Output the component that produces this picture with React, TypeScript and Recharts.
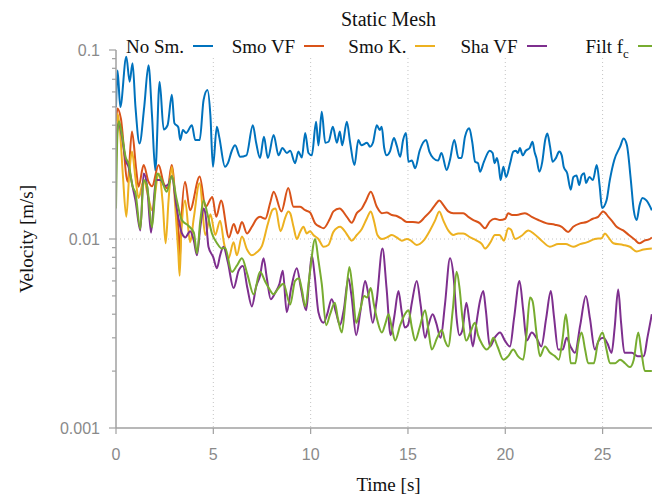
import { CartesianGrid, Line, LineChart, XAxis, YAxis } from "recharts";

type Pt = [number, number];

// time [s], velocity [m/s]
const noSmoothing: Pt[] = [
  [0, 0.05], [0.08, 0.078], [0.22, 0.05], [0.53, 0.092], [0.7, 0.068], [0.85, 0.085],
  [1.0, 0.05], [1.21, 0.032], [1.45, 0.05], [1.67, 0.083], [1.85, 0.045], [2.02, 0.023],
  [2.24, 0.068], [2.45, 0.038], [2.65, 0.04], [2.87, 0.058], [3.0, 0.041], [3.2, 0.039],
  [3.3, 0.0334], [3.44, 0.0377], [3.6, 0.0364], [3.9, 0.04], [4.07, 0.0334], [4.3, 0.0334],
  [4.5, 0.0544], [4.7, 0.0614], [4.85, 0.045], [4.98, 0.0241], [5.18, 0.0392], [5.3, 0.0348],
  [5.6, 0.0241], [5.75, 0.0252], [5.95, 0.0293], [6.12, 0.0313], [6.38, 0.0272], [6.7, 0.0277],
  [7.03, 0.04], [7.2, 0.0323], [7.4, 0.0268], [7.6, 0.0348], [7.8, 0.0268], [8.1, 0.0355],
  [8.35, 0.0277], [8.55, 0.0303], [8.78, 0.0285], [8.95, 0.0293], [9.2, 0.0252], [9.37, 0.029],
  [9.55, 0.027], [9.72, 0.0364], [9.89, 0.0285], [10.06, 0.0277], [10.28, 0.0417], [10.4, 0.0313],
  [10.57, 0.0471], [10.75, 0.0323], [10.92, 0.0327], [11.14, 0.0392], [11.35, 0.0323], [11.5, 0.037],
  [11.62, 0.0313], [11.86, 0.0417], [12.03, 0.0323], [12.25, 0.0246], [12.45, 0.0334], [12.6, 0.0313],
  [12.9, 0.0323], [13.05, 0.0308], [13.2, 0.0323], [13.4, 0.04], [13.55, 0.0377], [13.65, 0.0392],
  [13.78, 0.0303], [13.9, 0.0277], [14.07, 0.029], [14.28, 0.0342], [14.42, 0.0313], [14.6, 0.0272],
  [14.75, 0.0334], [14.9, 0.0364], [15.02, 0.0256], [15.2, 0.026], [15.37, 0.0237], [15.6, 0.0293],
  [15.93, 0.0334], [16.1, 0.029], [16.3, 0.0268], [16.55, 0.026], [16.72, 0.0285], [16.99, 0.0232],
  [17.15, 0.026], [17.38, 0.0334], [17.6, 0.0268], [17.75, 0.0268], [17.93, 0.0348], [18.15, 0.0385],
  [18.3, 0.0327], [18.45, 0.0256], [18.6, 0.0252], [18.7, 0.0227], [18.9, 0.0256], [19.2, 0.0293],
  [19.35, 0.0285], [19.45, 0.0252], [19.57, 0.0268], [19.67, 0.0241], [19.76, 0.0205], [19.9, 0.0241],
  [20.04, 0.0213], [20.25, 0.0252], [20.41, 0.029], [20.55, 0.0293], [20.65, 0.0285], [20.75, 0.0303],
  [20.9, 0.0277], [21.05, 0.0293], [21.25, 0.0303], [21.4, 0.0327], [21.5, 0.029], [21.6, 0.0268],
  [21.75, 0.0227], [21.9, 0.0256], [22.05, 0.0334], [22.16, 0.0362], [22.3, 0.0308], [22.43, 0.0256],
  [22.6, 0.0268], [22.77, 0.029], [22.9, 0.0277], [23.0, 0.0241], [23.18, 0.0223], [23.36, 0.0182],
  [23.5, 0.0213], [23.66, 0.0217], [23.8, 0.0193], [23.92, 0.0217], [24.05, 0.0223], [24.15, 0.0198],
  [24.32, 0.0213], [24.5, 0.0205], [24.7, 0.0246], [24.85, 0.019], [24.97, 0.0146], [25.2, 0.016],
  [25.37, 0.0205], [25.6, 0.0262], [25.9, 0.0308], [26.08, 0.034], [26.25, 0.0313], [26.45, 0.0205],
  [26.6, 0.0142], [26.75, 0.0126], [26.9, 0.0151], [27.05, 0.0165], [27.25, 0.016], [27.53, 0.0142],
];

const smoothVF: Pt[] = [
  [0, 0.042], [0.08, 0.049], [0.25, 0.0435], [0.6, 0.0201], [0.82, 0.037], [1.04, 0.0232],
  [1.16, 0.0189], [1.42, 0.0246], [1.67, 0.0201], [1.85, 0.019], [2.19, 0.0246], [2.45, 0.0197],
  [2.65, 0.0185], [2.86, 0.0246], [3.1, 0.0142], [3.22, 0.0105], [3.27, 0.0075], [3.35, 0.012],
  [3.55, 0.0201], [3.8, 0.0142], [4.3, 0.0214], [4.6, 0.0148], [4.95, 0.0167], [5.15, 0.0131],
  [5.4, 0.016], [5.8, 0.0102], [6.05, 0.012], [6.25, 0.0107], [6.47, 0.0123], [6.73, 0.0107],
  [6.98, 0.0116], [7.23, 0.0128], [7.4, 0.0131], [7.67, 0.0128], [7.92, 0.0155], [8.1, 0.0178],
  [8.5, 0.014], [8.85, 0.0186], [9.12, 0.0148], [9.46, 0.0148], [9.72, 0.0142], [9.97, 0.0138],
  [10.23, 0.0121], [10.49, 0.0116], [10.66, 0.0114], [10.99, 0.0128], [11.17, 0.014], [11.48, 0.0145],
  [11.86, 0.0131], [12.11, 0.0122], [12.37, 0.0137], [12.63, 0.0145], [12.85, 0.016], [13.09, 0.0178],
  [13.4, 0.0148], [13.66, 0.0137], [13.9, 0.0138], [14.17, 0.0134], [14.45, 0.0132], [14.68, 0.0128],
  [14.94, 0.0123], [15.25, 0.0123], [15.53, 0.0122], [15.88, 0.0131], [16.15, 0.014], [16.39, 0.0151],
  [16.61, 0.016], [16.82, 0.0151], [17.07, 0.014], [17.33, 0.0137], [17.6, 0.0137], [17.84, 0.0137],
  [18.1, 0.0131], [18.36, 0.0126], [18.7, 0.0121], [18.96, 0.0114], [19.21, 0.0124], [19.47, 0.0128],
  [19.73, 0.0126], [20.0, 0.0128], [20.15, 0.0137], [20.35, 0.0134], [20.58, 0.0134], [21.01, 0.0137],
  [21.36, 0.0131], [21.7, 0.0126], [22.13, 0.0121], [22.55, 0.0119], [22.9, 0.0116], [23.23, 0.0109],
  [23.49, 0.0116], [23.84, 0.0121], [24.18, 0.0123], [24.5, 0.0128], [24.77, 0.0131], [25.03, 0.014],
  [25.3, 0.0131], [25.5, 0.0124], [25.72, 0.0116], [26.06, 0.0111], [26.35, 0.0105], [26.66, 0.0099],
  [26.88, 0.0095], [27.15, 0.0098], [27.43, 0.01], [27.53, 0.0102],
];

const smoothK: Pt[] = [
  [0, 0.025], [0.08, 0.046], [0.2, 0.038], [0.35, 0.022], [0.53, 0.0131], [0.68, 0.022],
  [0.82, 0.029], [1.0, 0.021], [1.16, 0.0165], [1.42, 0.0205], [1.67, 0.0165], [1.85, 0.0142],
  [2.2, 0.0222], [2.4, 0.0155], [2.55, 0.0095], [2.7, 0.016], [2.87, 0.0241], [3.05, 0.0145],
  [3.2, 0.0085], [3.27, 0.0064], [3.35, 0.0105], [3.55, 0.016], [3.81, 0.0096], [4.0, 0.013],
  [4.29, 0.0197], [4.6, 0.0105], [4.85, 0.0135], [5.1, 0.0105], [5.35, 0.0125], [5.55, 0.0095],
  [5.78, 0.0079], [6.04, 0.0096], [6.21, 0.0082], [6.47, 0.0103], [6.73, 0.0088], [6.98, 0.0082],
  [7.23, 0.0085], [7.5, 0.0092], [7.8, 0.012], [8.05, 0.0143], [8.2, 0.0145], [8.45, 0.011],
  [8.7, 0.013], [8.85, 0.014], [8.95, 0.0137], [9.12, 0.0116], [9.29, 0.01], [9.46, 0.0109],
  [9.63, 0.0116], [9.8, 0.0107], [9.97, 0.011], [10.14, 0.0105], [10.4, 0.01], [10.66, 0.0091],
  [10.91, 0.0093], [11.17, 0.0109], [11.52, 0.0116], [11.75, 0.011], [11.94, 0.0103], [12.11, 0.0098],
  [12.37, 0.0105], [12.63, 0.0113], [12.88, 0.0128], [13.09, 0.014], [13.25, 0.0125], [13.43, 0.0105],
  [13.66, 0.01], [13.92, 0.0102], [14.17, 0.0105], [14.42, 0.0102], [14.68, 0.0098], [14.95, 0.01],
  [15.15, 0.0098], [15.45, 0.0093], [15.8, 0.0098], [16.13, 0.0111], [16.39, 0.0125], [16.61, 0.014],
  [16.82, 0.0125], [17.07, 0.0111], [17.33, 0.0105], [17.58, 0.0107], [17.84, 0.0107], [18.2, 0.0102],
  [18.53, 0.0098], [18.8, 0.0094], [18.96, 0.0089], [19.21, 0.0095], [19.47, 0.0105], [19.7, 0.0105],
  [19.93, 0.0098], [20.15, 0.0114], [20.3, 0.0112], [20.5, 0.01], [20.84, 0.0104], [21.18, 0.0111],
  [21.5, 0.0106], [21.87, 0.0098], [22.29, 0.0091], [22.72, 0.0094], [23.1, 0.0094], [23.49, 0.0091],
  [23.84, 0.0094], [24.18, 0.0096], [24.6, 0.01], [24.95, 0.0101], [25.12, 0.0107], [25.3, 0.0102],
  [25.55, 0.0095], [26.06, 0.0093], [26.4, 0.0091], [26.75, 0.0086], [27.1, 0.0088], [27.53, 0.0089],
];

const sharpVF: Pt[] = [
  [0, 0.03], [0.07, 0.038], [0.15, 0.041], [0.3, 0.035], [0.5, 0.026], [0.65, 0.024],
  [0.85, 0.019], [1.0, 0.016], [1.25, 0.0111], [1.42, 0.0222], [1.6, 0.019], [1.8, 0.0108],
  [2.05, 0.0205], [2.3, 0.0205], [2.5, 0.019], [2.7, 0.0195], [2.87, 0.0215], [3.1, 0.015],
  [3.39, 0.0107], [3.56, 0.0102], [3.81, 0.011], [4.0, 0.0098], [4.16, 0.0082], [4.33, 0.0115],
  [4.5, 0.0145], [4.6, 0.0135], [4.75, 0.0091], [5.0, 0.008], [5.18, 0.007], [5.35, 0.0082],
  [5.52, 0.0091], [5.75, 0.0075], [6.04, 0.0055], [6.3, 0.0068], [6.52, 0.0072], [6.75, 0.0055],
  [6.98, 0.0044], [7.2, 0.0056], [7.4, 0.0064], [7.58, 0.0079], [7.75, 0.0062], [7.95, 0.0048],
  [8.18, 0.0052], [8.4, 0.0058], [8.57, 0.0068], [8.77, 0.0041], [9.0, 0.0055], [9.29, 0.007],
  [9.5, 0.0055], [9.77, 0.0042], [9.92, 0.006], [10.06, 0.0082], [10.2, 0.0065], [10.4, 0.0041],
  [10.66, 0.0036], [10.85, 0.004], [11.08, 0.0048], [11.3, 0.0041], [11.5, 0.0035], [11.7, 0.0042],
  [11.94, 0.0062], [12.1, 0.005], [12.34, 0.0031], [12.55, 0.0041], [12.8, 0.006], [12.95, 0.0052],
  [13.19, 0.0036], [13.4, 0.0048], [13.69, 0.0089], [13.9, 0.0055], [14.11, 0.0031], [14.3, 0.0039],
  [14.51, 0.0053], [14.68, 0.0041], [14.84, 0.0034], [15.0, 0.0035], [15.2, 0.0046], [15.45, 0.006],
  [15.65, 0.0045], [15.88, 0.003], [16.05, 0.0035], [16.27, 0.004], [16.45, 0.0036], [16.68, 0.003],
  [16.9, 0.0045], [17.16, 0.0079], [17.35, 0.0062], [17.5, 0.0038], [17.64, 0.0031], [17.8, 0.0033],
  [18.0, 0.0046], [18.15, 0.0037], [18.33, 0.0027], [18.5, 0.0035], [18.7, 0.0047], [18.87, 0.0053],
  [19.0, 0.0042], [19.21, 0.0027], [19.45, 0.003], [19.73, 0.0032], [19.98, 0.0029], [20.24, 0.0027],
  [20.45, 0.0038], [20.73, 0.006], [20.92, 0.0042], [21.1, 0.0029], [21.36, 0.0032], [21.6, 0.003],
  [21.85, 0.0027], [22.1, 0.0038], [22.34, 0.0053], [22.5, 0.0039], [22.72, 0.0026], [22.95, 0.0026],
  [23.15, 0.003], [23.35, 0.0027], [23.58, 0.0025], [23.85, 0.0035], [24.14, 0.005], [24.35, 0.0038],
  [24.6, 0.0026], [24.8, 0.0029], [25.03, 0.003], [25.25, 0.0028], [25.46, 0.0025], [25.62, 0.0034],
  [25.8, 0.0054], [25.95, 0.0036], [26.12, 0.0025], [26.5, 0.0025], [26.8, 0.0024], [27.12, 0.0024],
  [27.3, 0.003], [27.53, 0.004],
];

const filteredFc: Pt[] = [
  [0, 0.0145], [0.07, 0.035], [0.15, 0.042], [0.3, 0.036], [0.5, 0.027], [0.65, 0.025],
  [0.85, 0.019], [1.0, 0.0175], [1.25, 0.0113], [1.42, 0.0205], [1.6, 0.019], [1.85, 0.0115],
  [2.1, 0.0222], [2.35, 0.0205], [2.6, 0.0178], [2.87, 0.0215], [3.1, 0.0165], [3.38, 0.0126],
  [3.7, 0.0118], [4.0, 0.0108], [4.16, 0.0084], [4.33, 0.0125], [4.5, 0.016], [4.7, 0.0135],
  [4.93, 0.0107], [5.19, 0.0095], [5.44, 0.0089], [5.6, 0.009], [5.95, 0.0067], [6.2, 0.0072],
  [6.47, 0.0079], [6.75, 0.0065], [7.07, 0.0051], [7.4, 0.0067], [7.65, 0.006], [7.85, 0.0055],
  [8.09, 0.0051], [8.35, 0.0055], [8.6, 0.0058], [8.95, 0.0045], [9.2, 0.006], [9.4, 0.0062],
  [9.55, 0.0054], [9.72, 0.0044], [9.95, 0.0065], [10.23, 0.01], [10.4, 0.0077], [10.57, 0.0058],
  [10.8, 0.0035], [11.0, 0.004], [11.24, 0.0046], [11.4, 0.0038], [11.6, 0.0032], [11.8, 0.0048],
  [11.99, 0.0071], [12.15, 0.0055], [12.34, 0.0036], [12.54, 0.0042], [12.75, 0.005], [12.9, 0.0049],
  [13.09, 0.0055], [13.25, 0.0045], [13.43, 0.0037], [13.66, 0.0032], [13.85, 0.0036], [14.0, 0.004],
  [14.17, 0.0034], [14.34, 0.0029], [14.6, 0.0035], [14.84, 0.004], [15.03, 0.0042], [15.2, 0.0034],
  [15.37, 0.0029], [15.6, 0.0034], [15.88, 0.0042], [16.05, 0.0033], [16.22, 0.0026], [16.5, 0.003],
  [16.74, 0.0033], [16.9, 0.0029], [17.07, 0.0027], [17.3, 0.0042], [17.5, 0.0067], [17.65, 0.0055],
  [17.8, 0.0038], [18.0, 0.0029], [18.2, 0.0032], [18.44, 0.0036], [18.6, 0.0031], [18.79, 0.0028],
  [19.04, 0.0026], [19.2, 0.0027], [19.39, 0.003], [19.6, 0.0027], [19.9, 0.0023], [20.15, 0.0024],
  [20.41, 0.0026], [20.65, 0.0024], [20.92, 0.0023], [21.1, 0.0032], [21.27, 0.0049], [21.4, 0.0047],
  [21.6, 0.0032], [21.78, 0.0024], [22.04, 0.0027], [22.3, 0.0025], [22.55, 0.0024], [22.75, 0.0023],
  [22.95, 0.003], [23.11, 0.004], [23.22, 0.0033], [23.36, 0.0022], [23.6, 0.0022], [23.75, 0.0028],
  [23.92, 0.0032], [24.1, 0.0026], [24.26, 0.0022], [24.55, 0.0022], [24.75, 0.0028], [25.0, 0.0032],
  [25.2, 0.0026], [25.38, 0.0022], [25.65, 0.0022], [25.9, 0.0023], [26.15, 0.0022], [26.4, 0.0021],
  [26.6, 0.0023], [26.83, 0.0032], [27.0, 0.0025], [27.17, 0.002], [27.53, 0.002],
];

const xTicks = [0, 5, 10, 15, 20, 25];
const xGrid = [5, 10, 15, 20, 25];
const yMajor = [0.001, 0.01, 0.1];
const yTicks = [
  0.001, 0.002, 0.003, 0.004, 0.005, 0.006, 0.007, 0.008, 0.009,
  0.01, 0.02, 0.03, 0.04, 0.05, 0.06, 0.07, 0.08, 0.09, 0.1,
];

const series = [
  { name: "No Sm.", color: "#0072bd", data: noSmoothing },
  { name: "Smo VF", color: "#d95319", data: smoothVF },
  { name: "Smo K.", color: "#edb120", data: smoothK },
  { name: "Sha VF", color: "#7e2f8e", data: sharpVF },
  { name: "Filt f", sub: "c", color: "#77ac30", data: filteredFc },
];

const SERIF = '"Liberation Serif", "Times New Roman", serif';
const SANS = '"Liberation Sans", Arial, sans-serif';
const AXIS = "#a0a0a0";
const TICK_TEXT = "#8a8a8a";

const YTick = ({ x, y, payload }: any) => {
  const major = yMajor.includes(payload.value);
  return (
    <g>
      <line x1={x - (major ? 7 : 4)} x2={x} y1={y} y2={y} stroke={AXIS} strokeWidth={1.2} />
      {major && (
        <text x={x - 16} y={y + 5.5} textAnchor="end" fontFamily={SANS} fontSize={16} fill={TICK_TEXT}>
          {String(payload.value)}
        </text>
      )}
    </g>
  );
};

const XTick = ({ x, y, payload }: any) => (
  <g>
    <line x1={x} x2={x} y1={y} y2={y + 6} stroke={AXIS} strokeWidth={1.2} />
    <text x={x} y={y + 32} textAnchor="middle" fontFamily={SANS} fontSize={16} fill={TICK_TEXT}>
      {String(payload.value)}
    </text>
  </g>
);

export default function App() {
  return (
    <div
      style={{
        position: "absolute",
        left: 0,
        top: 0,
        width: 652,
        height: 497,
        overflow: "hidden",
        background: "#fff",
      }}
    >
      <LineChart width={661} height={497} margin={{ top: 50, right: 0, bottom: 0, left: 0 }}>
        <CartesianGrid
          horizontalValues={[0.01]}
          verticalValues={xGrid}
          stroke="#c4c4c4"
          strokeDasharray="1 3"
        />
        <XAxis
          type="number"
          dataKey="t"
          domain={[0, 28]}
          ticks={xTicks}
          interval={0}
          allowDataOverflow
          height={69}
          tickSize={0}
          tickMargin={0}
          tickLine={false}
          axisLine={{ stroke: AXIS, strokeWidth: 1.5 }}
          tick={(p: any) => <XTick {...p} />}
          label={{
            value: "Time [s]",
            position: "insideBottom",
            offset: 6,
            fill: "#111",
            style: { fontFamily: SERIF, fontSize: 19 },
          }}
        />
        <YAxis
          scale="log"
          domain={[0.001, 0.1]}
          ticks={yTicks}
          interval={0}
          allowDataOverflow
          width={116}
          tickSize={0}
          tickMargin={0}
          tickLine={false}
          axisLine={{ stroke: AXIS, strokeWidth: 1.5 }}
          tick={(p: any) => <YTick {...p} />}
          label={{
            value: "Velocity [m/s]",
            angle: -90,
            position: "insideLeft",
            offset: 26,
            fill: "#111",
            style: { fontFamily: SERIF, fontSize: 19, textAnchor: "middle" },
          }}
        />
        {series.map((s) => (
          <Line
            key={s.name}
            name={s.name}
            data={s.data.map(([t, v]) => ({ t, v }))}
            dataKey="v"
            type="monotone"
            stroke={s.color}
            strokeWidth={2}
            dot={false}
            activeDot={false}
            isAnimationActive={false}
          />
        ))}
      </LineChart>

      <div
        style={{
          position: "absolute",
          left: 0,
          top: 9,
          width: 777,
          textAlign: "center",
          fontFamily: SERIF,
          fontSize: 20,
          lineHeight: "20px",
          color: "#111",
        }}
      >
        Static Mesh
      </div>

      <div
        style={{
          position: "absolute",
          left: 120,
          top: 34,
          width: 540,
          height: 21,
          background: "#fff",
        }}
      />
      {series.map((s, i) => {
        const lineStart = 193 + i * 111.2;
        return (
          <div key={s.name}>
            <span
              style={{
                position: "absolute",
                left: lineStart - 9 - 150,
                top: 36.6,
                width: 150,
                textAlign: "right",
                fontFamily: SERIF,
                fontSize: 19,
                lineHeight: "19px",
                color: "#111",
                whiteSpace: "nowrap",
              }}
            >
              {s.name}
              {s.sub && (
                <span style={{ fontSize: 13, position: "relative", top: 5 }}>{s.sub}</span>
              )}
            </span>
            <div
              style={{
                position: "absolute",
                left: lineStart,
                top: 44.5,
                width: 20,
                height: 2,
                background: s.color,
              }}
            />
          </div>
        );
      })}
    </div>
  );
}
